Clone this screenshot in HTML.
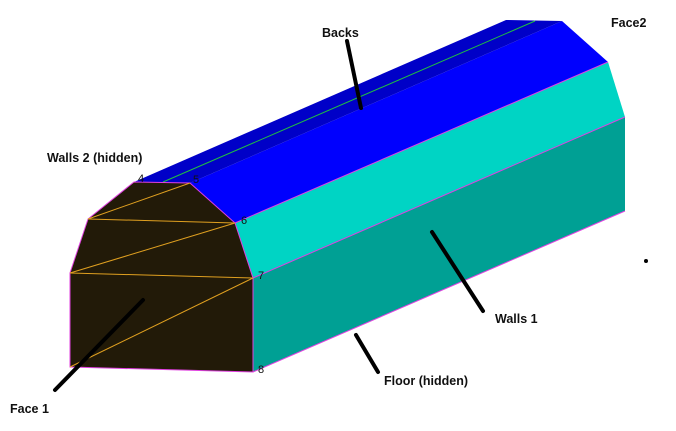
<!DOCTYPE html>
<html><head><style>
body{margin:0;background:#fff;width:676px;height:431px;overflow:hidden}
svg{display:block}
text{font-family:"Liberation Sans",sans-serif;font-weight:bold;font-size:12.5px;fill:#111}
.n{font-weight:normal;font-size:11px}
</style></head><body>
<svg width="676" height="431" viewBox="0 0 676 431">
<!-- floor wall (lower teal) -->
<polygon points="253,278 625,117 625,211 253,372" fill="#00a094"/>
<!-- upper wall -->
<polygon points="235,223 608,62 625,117 253,278" fill="#00d4c4"/>
<!-- slope blue -->
<polygon points="190,183 562,21 608,62 235,223" fill="#0000fe"/>
<!-- top strip darker -->
<polygon points="134,182 506,20 562,21 190,183" fill="#0000c8"/>
<line x1="163" y1="182" x2="535" y2="21" stroke="#20c040" stroke-width="1"/>
<!-- edges -->
<line x1="235" y1="223" x2="608" y2="62" stroke="#e040e0" stroke-width="1"/>
<line x1="253" y1="278" x2="625" y2="117" stroke="#e040e0" stroke-width="1"/>
<line x1="253" y1="372" x2="625" y2="211" stroke="#e040e0" stroke-width="1"/>
<!-- front face -->
<polygon points="134,182 190,183 235,223 253,278 253,372 70,367 70,273 88,219" fill="#221a08" stroke="#e040e0" stroke-width="1"/>
<g stroke="#e0a020" stroke-width="1" fill="none">
<polyline points="88,219 190,183"/>
<polyline points="88,219 235,223"/>
<polyline points="70,273 235,223"/>
<polyline points="70,273 253,278"/>
<polyline points="70,367 253,278"/>
</g>
<text class="n" x="138" y="182">4</text>
<text class="n" x="193" y="183">5</text>
<text class="n" x="241" y="224">6</text>
<text class="n" x="258" y="279">7</text>
<text class="n" x="258" y="373">8</text>
<!-- leaders -->
<g stroke="#000" stroke-width="4" stroke-linecap="round">
<line x1="347" y1="41" x2="361" y2="108"/>
<line x1="432" y1="232" x2="483" y2="311"/>
<line x1="356" y1="335" x2="378" y2="372"/>
<line x1="143" y1="300" x2="55" y2="390"/>
</g>
<circle cx="646" cy="261" r="2" fill="#000"/>
<text x="322" y="37">Backs</text>
<text x="611" y="27">Face2</text>
<text x="47" y="162">Walls 2 (hidden)</text>
<text x="495" y="323">Walls 1</text>
<text x="384" y="385">Floor (hidden)</text>
<text x="10" y="413">Face 1</text>
</svg>
</body></html>
